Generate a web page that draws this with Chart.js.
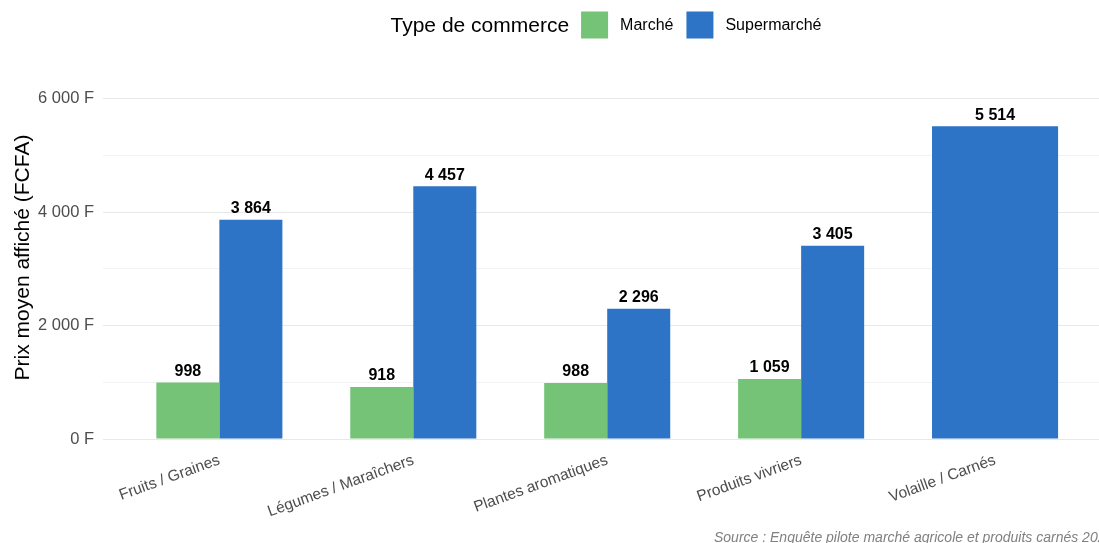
<!DOCTYPE html>
<html>
<head>
<meta charset="utf-8">
<script src="https://cdn.jsdelivr.net/npm/chart.js@4.4.1/dist/chart.umd.min.js"></script>
<style>
  html, body { margin: 0; padding: 0; background: #fff; overflow: hidden; }
  #wrap { width: 1099px; height: 543px; }
</style>
</head>
<body>
<div id="wrap"><canvas id="chart" width="1099" height="543"></canvas></div>
<script>
const categories = ['Fruits / Graines', 'Légumes / Maraîchers', 'Plantes aromatiques', 'Produits vivriers', 'Volaille / Carnés']
const marche = [998, 918, 988, 1059, null]
const supermarche = [3864, 4457, 2296, 3405, 5514]
const yTicks = [0, 1000, 2000, 3000, 4000, 5000, 6000]
const legendTitle = 'Type de commerce'
const seriesNames = ['Marché', 'Supermarché']
const seriesColors = ['rgb(116,195,118)', 'rgb(45,116,198)']
const axisTitle = 'Prix moyen affiché (FCFA)'
const sourceText = 'Source : Enquête pilote marché agricole et produits carnés 2024'

const FONT = "'Liberation Sans', Arial, sans-serif"

const fmt = v => String(v).replace(/\B(?=(\d{3})+(?!\d))/g, ' ')

// points x = index de catégorie (axe linéaire pour garder la marge ggplot)
const toPoints = arr => arr.map((v, i) => ({ x: i, y: v }))

const labelsPlugin = {
  id: 'valeurs',
  afterDatasetsDraw(chart) {
    const ctx = chart.ctx
    ctx.save()
    ctx.font = 'bold 16px ' + FONT
    ctx.fillStyle = '#000'
    ctx.textAlign = 'center'
    ctx.textBaseline = 'bottom'
    chart.data.datasets.forEach((ds, di) => {
      const meta = chart.getDatasetMeta(di)
      meta.data.forEach((bar, i) => {
        const v = ds.data[i].y
        if (v === null || v === undefined) return
        ctx.fillText(fmt(v), bar.x, bar.y - 3)
      })
    })
    ctx.restore()
  }
}

const legendPlugin = {
  id: 'legende',
  afterDraw(chart) {
    const ctx = chart.ctx
    ctx.save()
    ctx.textBaseline = 'middle'
    ctx.textAlign = 'left'
    const cy = 25
    const box = 27
    ctx.font = '21px ' + FONT
    const titleW = ctx.measureText(legendTitle).width
    ctx.font = '16px ' + FONT
    let total = titleW + 12
    seriesNames.forEach((n, i) => {
      total += box + 12 + ctx.measureText(n).width + (i < seriesNames.length - 1 ? 13 : 0)
    })
    let x = 606 - total / 2
    ctx.fillStyle = '#000'
    ctx.font = '21px ' + FONT
    ctx.fillText(legendTitle, x, cy + 1)
    x += titleW + 12
    ctx.font = '16px ' + FONT
    seriesNames.forEach((n, i) => {
      ctx.fillStyle = seriesColors[i]
      ctx.fillRect(x, cy - box / 2, box, box)
      x += box + 12
      ctx.fillStyle = '#000'
      ctx.fillText(n, x, cy + 1)
      x += ctx.measureText(n).width + 13
    })
    // source
    ctx.font = 'italic 14px ' + FONT
    ctx.fillStyle = '#808080'
    ctx.textBaseline = 'alphabetic'
    ctx.fillText(sourceText, 714, 542)
    ctx.restore()
  }
}

new Chart(document.getElementById('chart'), {
  type: 'bar',
  data: {
    datasets: [
      { label: seriesNames[0], data: toPoints(marche), backgroundColor: seriesColors[0], skipNull: true },
      { label: seriesNames[1], data: toPoints(supermarche), backgroundColor: seriesColors[1], skipNull: true }
    ]
  },
  options: {
    responsive: false,
    animation: false,
    layout: { padding: { top: 76, right: 0, left: 0, bottom: 0 } },
    datasets: { bar: { categoryPercentage: 0.65, barPercentage: 1 } },
    plugins: { legend: { display: false }, tooltip: { enabled: false } },
    scales: {
      x: {
        type: 'linear',
        offset: false,
        min: -0.6,
        max: 4.536,
        afterBuildTicks: s => { s.ticks = categories.map((c, i) => ({ value: i })) },
        afterFit: s => { s.height = 104 },
        grid: { display: false },
        border: { display: false },
        ticks: {
          callback: v => categories[v],
          minRotation: 20,
          maxRotation: 20,
          padding: 4,
          color: '#4d4d4d',
          font: { family: FONT, size: 15.5 }
        }
      },
      y: {
        min: 0,
        max: 6400,
        afterBuildTicks: s => { s.ticks = yTicks.map(v => ({ value: v })) },
        afterFit: s => { s.width = 103 },
        border: { display: false },
        grid: {
          drawTicks: false,
          color: c => (c.tick.value % 2000 === 0 ? '#e8e8e8' : '#f2f2f2'),
          lineWidth: 1
        },
        ticks: {
          callback: v => (v % 2000 === 0 ? fmt(v) + ' F' : ''),
          padding: 9,
          color: '#4d4d4d',
          font: { family: FONT, size: 16.5 }
        },
        title: {
          display: true,
          text: axisTitle,
          color: '#000',
          padding: { top: 11, bottom: 0 },
          font: { family: FONT, size: 21 }
        }
      }
    }
  },
  plugins: [labelsPlugin, legendPlugin]
})
</script>
</body>
</html>
